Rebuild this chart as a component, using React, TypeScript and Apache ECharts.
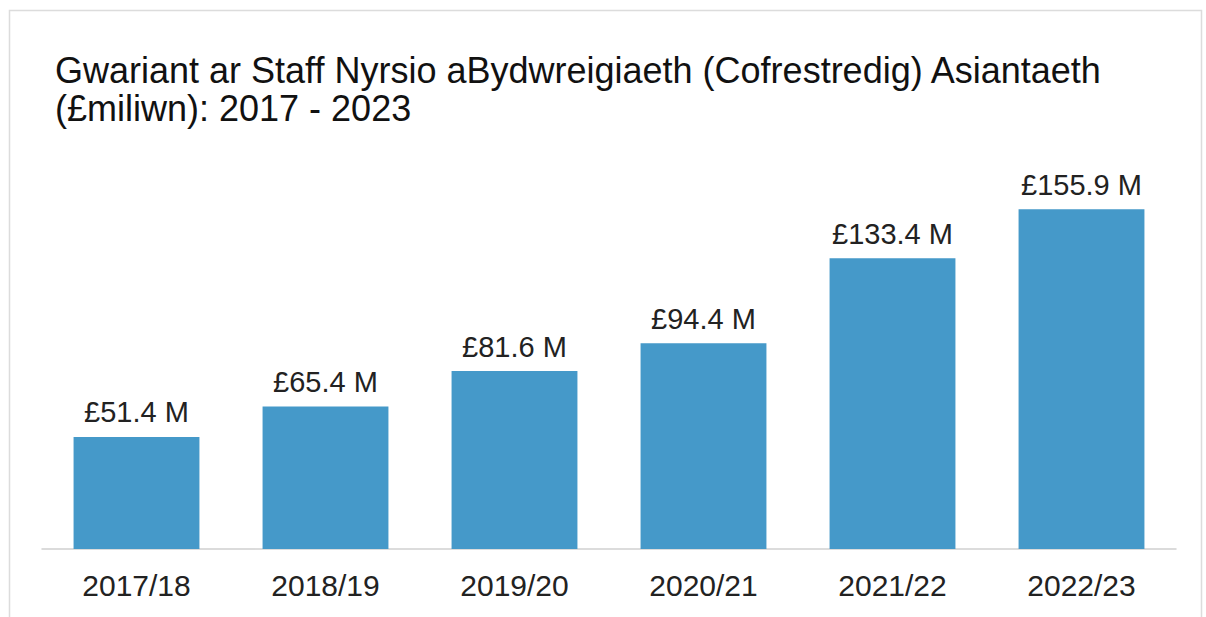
import React, { useEffect, useRef } from "react";
import * as echarts from "echarts";

const categories = ["2017/18", "2018/19", "2019/20", "2020/21", "2021/22", "2022/23"];
const values = [51.4, 65.4, 81.6, 94.4, 133.4, 155.9];
const titleText = "Gwariant ar Staff Nyrsio aBydwreigiaeth (Cofrestredig) Asiantaeth\n(£miliwn): 2017 - 2023";

export default function App() {
  const ref = useRef<HTMLDivElement>(null);
  useEffect(() => {
    if (!ref.current) return;
    const chart = echarts.init(ref.current, null, { renderer: "svg" });
    chart.setOption({
      animation: false,
      backgroundColor: "#ffffff",
      textStyle: { fontFamily: "Liberation Sans, Arial, sans-serif" },
      title: {
        text: titleText,
        left: 50,
        top: 46,
        textStyle: {
          fontFamily: "Liberation Sans, Arial, sans-serif",
          fontSize: 36,
          lineHeight: 38,
          fontWeight: "normal",
          color: "#111111",
        },
      },
      graphic: [
        {
          type: "rect",
          shape: { x: 9.5, y: 10.5, width: 1192, height: 640 },
          style: { fill: "none", stroke: "#dcdcdc", lineWidth: 1.5 },
          silent: true,
        },
      ],
      grid: { left: 42, right: 30, top: 113, bottom: 68, containLabel: false },
      xAxis: {
        type: "category",
        data: categories,
        axisLine: { show: true, lineStyle: { color: "#d0d0d0", width: 1.5 } },
        axisTick: { show: false },
        axisLabel: {
          fontSize: 30,
          color: "#222222",
          margin: 21,
          fontFamily: "Liberation Sans, Arial, sans-serif",
        },
      },
      yAxis: {
        type: "value",
        min: 0,
        max: 200,
        show: false,
        splitLine: { show: false },
      },
      series: [
        {
          type: "bar",
          data: values,
          barWidth: "66.6%",
          itemStyle: { color: "#4599c9" },
          label: {
            show: true,
            position: "top",
            distance: 10,
            fontSize: 29,
            color: "#222222",
            fontFamily: "Liberation Sans, Arial, sans-serif",
            formatter: (p: any) => "£" + p.value.toFixed(1) + " M",
          },
        },
      ],
    });
    return () => chart.dispose();
  }, []);
  return (
    <div
      ref={ref}
      style={{ position: "absolute", left: 0, top: 0, width: 1206, height: 617 }}
    />
  );
}
